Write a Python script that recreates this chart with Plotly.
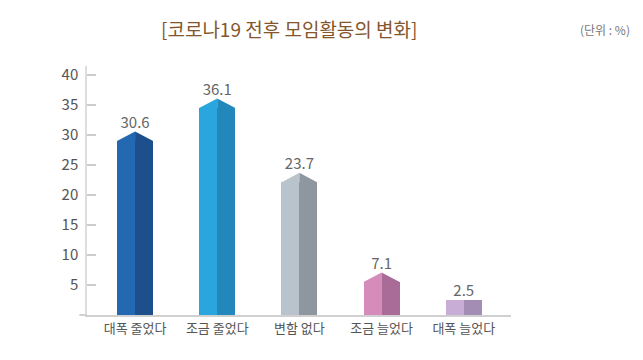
import plotly.graph_objects as go

categories = ["대폭 줄었다", "조금 줄었다", "변함 없다", "조금 늘었다", "대폭 늘었다"]
values = [30.6, 36.1, 23.7, 7.1, 2.5]
left_colors = ["#2468b2", "#2aa6df", "#b9c3cc", "#d68cba", "#c8aed7"]
right_colors = ["#1d4f8d", "#2287ba", "#8e979f", "#a96b98", "#a38db4"]
y_ticks = [5, 10, 15, 20, 25, 30, 35, 40]

FONT = "Noto Sans CJK KR, Noto Sans, sans-serif"
half = 0.22
roof = [1.6 if v > 5 else 0 for v in values]
xs = list(range(len(categories)))

fig = go.Figure()

body = [v - r for v, r in zip(values, roof)]
fig.add_trace(go.Bar(x=xs, y=body, width=half, offset=-half,
                     marker=dict(color=left_colors, line=dict(width=0)),
                     hoverinfo="skip", showlegend=False))
fig.add_trace(go.Bar(x=xs, y=body, width=half, offset=0,
                     marker=dict(color=right_colors, line=dict(width=0)),
                     hoverinfo="skip", showlegend=False))

# roof halves
for i, (v, r) in enumerate(zip(values, roof)):
    if r <= 0:
        continue
    fig.add_trace(go.Scatter(
        x=[i - half, i, i, i - half, i - half],
        y=[v - r, v, v - r, v - r, v - r],
        fill="toself", fillcolor=left_colors[i], mode="lines",
        line=dict(width=0, color=left_colors[i]), hoverinfo="skip", showlegend=False))
    fig.add_trace(go.Scatter(
        x=[i, i + half, i + half, i, i],
        y=[v, v - r, v - r, v - r, v],
        fill="toself", fillcolor=right_colors[i], mode="lines",
        line=dict(width=0, color=right_colors[i]), hoverinfo="skip", showlegend=False))

# value labels
fig.add_trace(go.Scatter(
    x=xs, y=values, mode="text", text=[f"{v}" for v in values],
    textposition="top center", textfont=dict(size=15, color="#666666", family=FONT),
    hoverinfo="skip", showlegend=False))

# page body has an 8px offset; compensate in margins
L, T, PW, PH = 79, 58, 424, 249

fig.update_layout(
    width=643, height=360,
    margin=dict(l=L, r=643 - L - PW, t=T, b=360 - T - PH),
    paper_bgcolor="white", plot_bgcolor="white",
    bargap=0,
    font=dict(family=FONT, color="#555555"),
    xaxis=dict(range=[-0.585, 4.575], tickmode="array", tickvals=xs, ticktext=categories,
               showgrid=False, zeroline=False, showline=True, linecolor="#d0d0d0", linewidth=2,
               ticks="", tickfont=dict(size=13, color="#555555", family=FONT), fixedrange=True),
    yaxis=dict(range=[0, 41.5], tickmode="array", tickvals=y_ticks,
               showgrid=False, zeroline=False, showline=True, linecolor="#dddddd", linewidth=1.5,
               ticks="inside", ticklen=9, tickcolor="#cccccc", tickwidth=1.5,
               ticklabelstandoff=4,
               tickfont=dict(size=15, color="#555555", family=FONT), fixedrange=True),
    shapes=[dict(type="line", xref="paper", yref="paper", x0=-0.018, x1=0, y0=0, y1=0,
                 line=dict(color="#d0d0d0", width=2))],
    annotations=[
        dict(text="[코로나19 전후 모임활동의 변화]", xref="paper", yref="paper",
             x=(289 - 87) / PW, y=(315 - 28) / PH, xanchor="center", yanchor="middle",
             showarrow=False, font=dict(size=19, color="#85562c", family=FONT)),
        dict(text="(단위 : %)", xref="paper", yref="paper",
             x=(605 - 87) / PW, y=(315 - 30) / PH, xanchor="center", yanchor="middle",
             showarrow=False, font=dict(size=12, color="#777777", family=FONT)),
    ],
)

fig.write_html("out.html")
